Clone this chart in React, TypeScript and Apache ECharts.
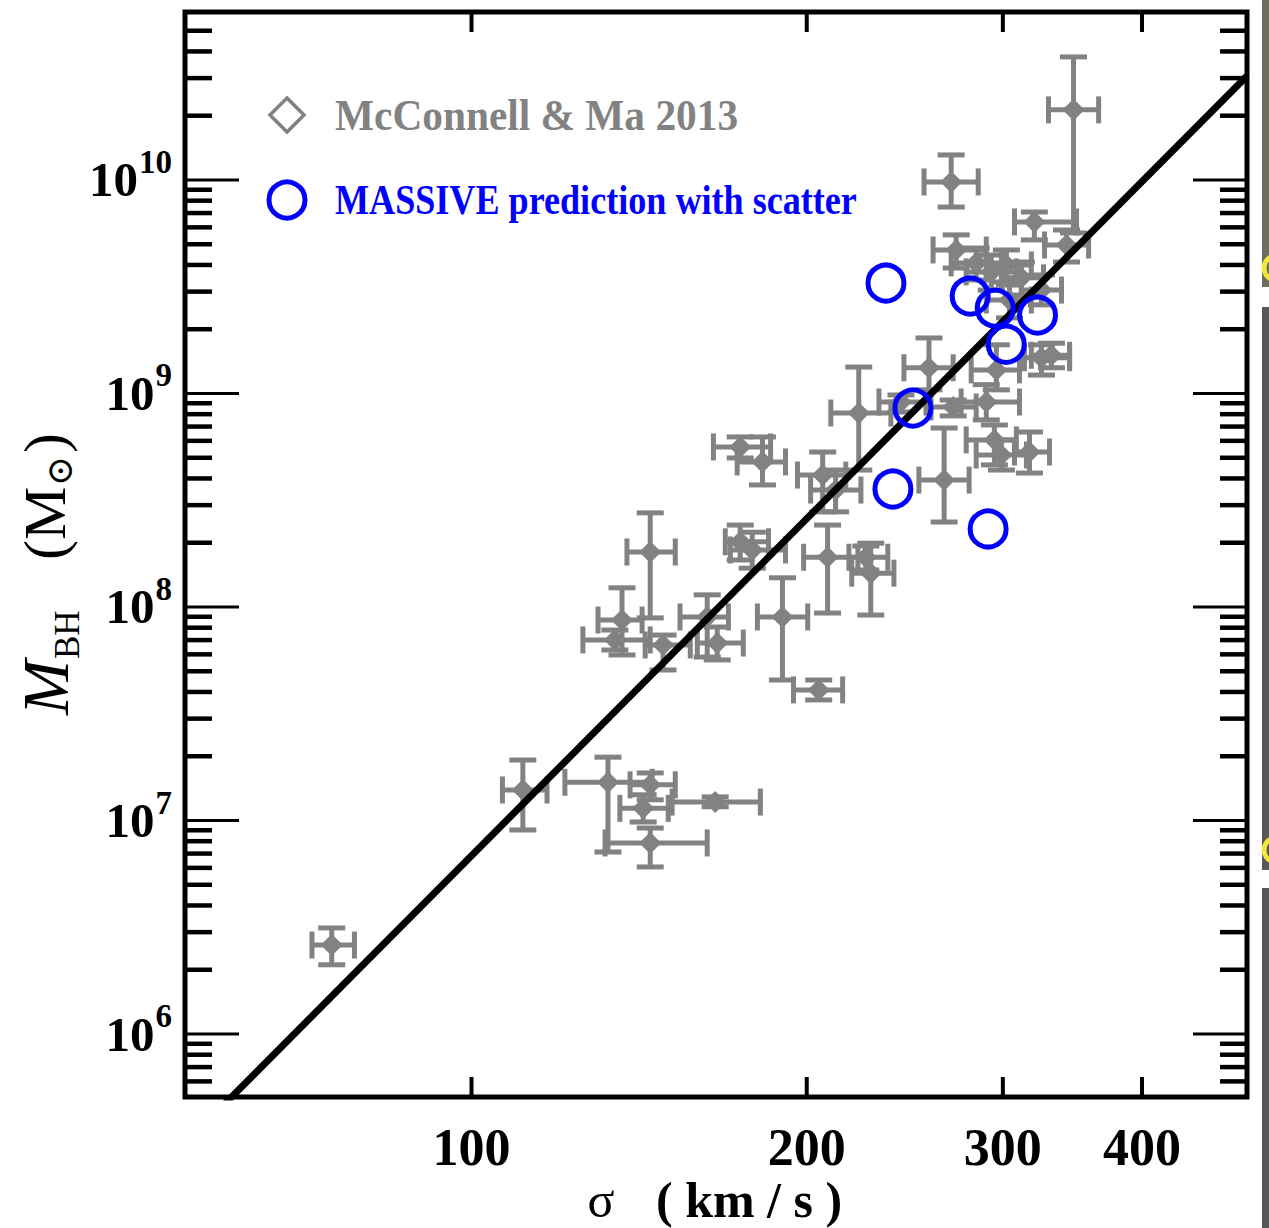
import React, { useEffect, useRef } from "react";
import * as echarts from "echarts";

// Axis ranges: velocity dispersion (km/s) and black-hole mass (solar masses)
const SIGMA_MIN = 55.3;
const SIGMA_MAX = 497;
const MASS_MIN = 5.07e5;
const MASS_MAX = 6.12e10;

// McConnell & Ma 2013 galaxies: sigma with its error range, M_BH with its error range
const mmSigma = [74.9, 111.2, 132.6, 144.7, 142.6, 144.7, 165.5, 144.7, 136.5, 134.5, 148.6, 162.8, 166.2, 190.2, 205.0, 174.3, 178.7, 208.8, 226.0, 228.3, 174.3, 182.5, 206.7, 212.3, 265.7, 222.7, 243.0, 257.5, 296.0, 324.9, 331.7, 270.7, 289.9, 294.8, 299.1, 317.0, 269.6, 272.4, 283.9, 292.9, 302.2, 311.7, 320.2, 342.2, 324.9, 304.1, 347.2];
const mmSigmaLo = [71.9, 106.6, 121.3, 138.8, 135.9, 131.8, 151.4, 137.9, 129.9, 125.9, 143.2, 153.9, 159.5, 180.6, 194.6, 169.0, 170.8, 198.7, 218.2, 219.5, 164.9, 173.2, 196.2, 201.6, 252.2, 210.2, 232.2, 244.5, 281.0, 313.7, 318.2, 258.6, 275.2, 278.1, 283.9, 307.3, 254.9, 259.7, 269.6, 278.1, 289.9, 299.1, 307.3, 327.0, 311.7, 289.9, 329.7];
const mmSigmaHi = [78.5, 116.9, 145.3, 152.4, 150.2, 162.8, 181.7, 152.4, 142.3, 144.7, 157.2, 170.1, 175.4, 200.4, 215.4, 184.8, 191.4, 222.3, 236.5, 239.5, 185.6, 191.4, 216.8, 223.7, 279.8, 238.0, 255.9, 270.7, 310.5, 344.4, 344.4, 283.9, 310.5, 308.5, 315.0, 330.4, 285.1, 289.9, 299.1, 308.5, 318.2, 326.3, 349.4, 358.2, 338.7, 318.2, 365.7];
const mmMass = [2.61e6, 1.39e7, 1.51e7, 1.47e7, 1.14e7, 7.85e6, 1.22e7, 1.81e8, 8.69e7, 7.01e7, 6.64e7, 8.98e7, 6.78e7, 8.98e7, 4.09e7, 2.02e8, 1.85e8, 1.71e8, 1.71e8, 1.44e8, 5.62e8, 4.78e8, 4.15e8, 3.53e8, 3.93e8, 8.10e8, 9.12e8, 1.32e9, 1.29e9, 1.47e9, 1.51e9, 8.65e8, 9.12e8, 6.06e8, 5.15e8, 5.32e8, 9.79e9, 4.70e9, 4.09e9, 3.71e9, 4.00e9, 3.48e9, 6.36e9, 4.96e9, 3.05e9, 2.74e9, 2.13e10];
const mmMassLo = [2.11e6, 9.03e6, 7.12e6, 1.25e7, 9.84e6, 6.06e6, 1.16e7, 8.89e7, 5.96e7, 6.29e7, 5.07e7, 5.83e7, 5.65e7, 4.55e7, 3.67e7, 1.66e8, 1.52e8, 9.37e7, 1.49e8, 9.17e7, 4.99e8, 3.73e8, 2.79e8, 2.79e8, 2.50e8, 4.38e8, 8.19e8, 1.04e9, 1.04e9, 1.22e9, 1.32e9, 7.85e8, 7.52e8, 4.63e8, 4.38e8, 4.24e8, 7.47e9, 3.87e9, 3.40e9, 3.05e9, 3.33e9, 2.89e9, 5.24e9, 4.13e9, 2.60e9, 2.26e9, 5.65e9];
const mmMassHi = [3.14e6, 1.92e7, 1.98e7, 1.67e7, 1.32e7, 9.22e6, 1.29e7, 2.76e8, 1.23e8, 7.80e7, 7.39e7, 1.14e8, 8.06e7, 1.37e8, 4.55e7, 2.42e8, 2.24e8, 2.42e8, 1.93e8, 1.99e8, 6.26e8, 6.26e8, 5.32e8, 4.38e8, 6.89e8, 1.33e9, 9.84e8, 1.82e9, 1.69e9, 1.69e9, 1.72e9, 9.32e8, 1.10e9, 7.12e8, 6.06e8, 6.60e8, 1.31e10, 5.53e9, 4.80e9, 4.45e9, 4.70e9, 4.13e9, 7.08e9, 5.83e9, 3.59e9, 3.22e9, 3.77e10];

// MASSIVE galaxies: predicted masses with scatter
const massiveSigma = [235.6, 280.4, 295.3, 322.3, 302.1, 249.1, 239.0, 291.0];
const massiveMass = [3.29e9, 2.86e9, 2.51e9, 2.33e9, 1.7e9, 8.55e8, 3.57e8, 2.32e8];

// M-sigma relation, end points across the plotted range
const fitSigma = [55.3, 497];
const fitMass = [3.06e5, 3.07e10];

// Axis ticks and labels
const xTickValues = [100, 200, 300, 400];
const xTickLabels = ["100", "200", "300", "400"];
const yMajorExponents = [6, 7, 8, 9, 10];
const yMinorMultipliers = [2, 3, 4, 5, 6, 7, 8, 9];
const yMinorDecades = [5, 6, 7, 8, 9, 10];

const SERIF = '"Liberation Serif", "Times New Roman", "DejaVu Serif", serif';
const GRAY = "#828282";
const BLUE = "#0000ff";
const CAP = 27;

const yMinorValues: number[] = [];
yMinorDecades.forEach((d) =>
  yMinorMultipliers.forEach((m) => {
    const v = m * Math.pow(10, d);
    if (v > MASS_MIN * 1.02 && v < MASS_MAX / 1.05) yMinorValues.push(v);
  })
);

function textStyle(text: string, size: number, extra: any = {}) {
  const align = extra.align || "left";
  const valign = extra.verticalAlign || "middle";
  return {
    text,
    fontSize: size,
    fontFamily: SERIF,
    fontWeight: extra.fontWeight || "normal",
    fontStyle: extra.fontStyle || "normal",
    fill: extra.fill || "#000",
    textAlign: align,
    textVerticalAlign: valign,
    align,
    verticalAlign: valign,
  };
}

function buildOption() {
  const mmRows = mmSigma.map((s, i) => [s, mmMass[i], mmSigmaLo[i], mmSigmaHi[i], mmMassLo[i], mmMassHi[i]]);
  const massiveRows = massiveSigma.map((s, i) => [s, massiveMass[i]]);
  const fitRows = fitSigma.map((s, i) => [s, fitMass[i]]);
  const yTickRows = [
    ...yMajorExponents.map((e) => [SIGMA_MIN, Math.pow(10, e), 1]),
    ...yMinorValues.map((v) => [SIGMA_MIN, v, 0]),
  ];
  const yLabelRows = yMajorExponents.map((e) => [SIGMA_MIN, Math.pow(10, e), e]);
  const xTickRows = xTickValues.map((v, i) => [v, MASS_MIN, i]);

  const errorBarItem = (params: any, api: any) => {
    const s = api.value(0);
    const m = api.value(1);
    const c = api.coord([s, m]);
    const cx = c[0];
    const cy = c[1];
    const xl = api.coord([api.value(2), m])[0];
    const xr = api.coord([api.value(3), m])[0];
    const yb = api.coord([s, api.value(4)])[1];
    const yt = api.coord([s, api.value(5)])[1];
    const h = CAP / 2;
    const st = { stroke: GRAY, lineWidth: 5 };
    const seg = (x1: number, y1: number, x2: number, y2: number) => ({ type: "line", shape: { x1, y1, x2, y2 }, style: st });
    const d = 11;
    return {
      type: "group",
      children: [
        seg(xl, cy, xr, cy),
        seg(cx, yt, cx, yb),
        seg(xl, cy - h, xl, cy + h),
        seg(xr, cy - h, xr, cy + h),
        seg(cx - h, yt, cx + h, yt),
        seg(cx - h, yb, cx + h, yb),
        { type: "polygon", shape: { points: [[cx, cy - d], [cx + d, cy], [cx, cy + d], [cx - d, cy]] }, style: { fill: GRAY } },
      ],
    };
  };

  const yTickItem = (params: any, api: any) => {
    const cs = params.coordSys;
    const y = api.coord([api.value(0), api.value(1)])[1];
    const major = api.value(2) === 1;
    const len = major ? 54 : 27;
    const st = { stroke: "#000", lineWidth: major ? 3 : 4.5 };
    return {
      type: "group",
      children: [
        { type: "line", shape: { x1: cs.x, y1: y, x2: cs.x + len, y2: y }, style: st },
        { type: "line", shape: { x1: cs.x + cs.width - len, y1: y, x2: cs.x + cs.width, y2: y }, style: st },
      ],
    };
  };

  const yLabelItem = (params: any, api: any) => {
    const cs = params.coordSys;
    const y = api.coord([api.value(0), api.value(1)])[1];
    const exp = String(api.value(2));
    const right = cs.x - 13;
    const supWidth = exp.length * 16.5;
    const mainRight = right - supWidth - 1;
    return {
      type: "group",
      children: [
        { type: "text", x: mainRight, y, style: textStyle("10", 49, { fontWeight: "bold", align: "right" }) },
        { type: "text", x: mainRight + 1, y: y - 18, style: textStyle(exp, 33, { fontWeight: "bold", align: "left" }) },
      ],
    };
  };

  const xTickItem = (params: any, api: any) => {
    const cs = params.coordSys;
    const x = api.coord([api.value(0), api.value(1)])[0];
    const bottom = cs.y + cs.height;
    const st = { stroke: "#000", lineWidth: 4 };
    return {
      type: "group",
      children: [
        { type: "line", shape: { x1: x, y1: bottom, x2: x, y2: bottom - 20 }, style: st },
        { type: "line", shape: { x1: x, y1: cs.y, x2: x, y2: cs.y + 20 }, style: st },
        {
          type: "text",
          x,
          y: bottom + 50,
          style: textStyle(xTickLabels[api.value(2)], 52, { fontWeight: "bold", align: "center" }),
        },
      ],
    };
  };

  return {
    animation: false,
    backgroundColor: "#fff",
    grid: {
      left: 185,
      top: 12,
      width: 1062,
      height: 1085,
      show: true,
      borderColor: "#000",
      borderWidth: 5,
      backgroundColor: "rgba(0,0,0,0)",
    },
    xAxis: {
      type: "log",
      logBase: 10,
      min: SIGMA_MIN,
      max: SIGMA_MAX,
      axisLine: { show: false },
      axisTick: { show: false },
      axisLabel: { show: false },
      splitLine: { show: false },
    },
    yAxis: {
      type: "log",
      logBase: 10,
      min: MASS_MIN,
      max: MASS_MAX,
      axisLine: { show: false },
      axisTick: { show: false },
      axisLabel: { show: false },
      splitLine: { show: false },
    },
    series: [
      {
        name: "McConnell & Ma 2013",
        type: "custom",
        data: mmRows,
        encode: { x: 0, y: 1 },
        renderItem: errorBarItem,
        silent: true,
        z: 2,
      },
      {
        name: "M-sigma",
        type: "line",
        data: fitRows,
        symbol: "none",
        lineStyle: { color: "#000", width: 7 },
        clip: true,
        silent: true,
        z: 3,
      },
      {
        name: "MASSIVE prediction with scatter",
        type: "scatter",
        data: massiveRows,
        symbol: "circle",
        symbolSize: 36,
        itemStyle: { color: "rgba(255,255,255,0)", borderColor: BLUE, borderWidth: 5, opacity: 1 },
        silent: true,
        z: 4,
      },
      { type: "custom", data: yTickRows, encode: { x: 0, y: 1 }, renderItem: yTickItem, silent: true, z: 5 },
      { type: "custom", data: yLabelRows, encode: { x: 0, y: 1 }, renderItem: yLabelItem, silent: true, z: 5 },
      { type: "custom", data: xTickRows, encode: { x: 0, y: 1 }, renderItem: xTickItem, silent: true, z: 5 },
    ],
    graphic: [
      // legend
      {
        type: "polygon",
        shape: { points: [[287, 98], [304, 115], [287, 132], [270, 115]] },
        style: { fill: "rgba(0,0,0,0)", stroke: GRAY, lineWidth: 3.5 },
        silent: true,
      },
      {
        type: "text",
        x: 335,
        y: 115,
        scaleX: 0.94,
        style: textStyle("McConnell & Ma 2013", 44, { fontWeight: "bold", fill: GRAY }),
        silent: true,
      },
      {
        type: "circle",
        shape: { cx: 287, cy: 200, r: 18 },
        style: { fill: "rgba(0,0,0,0)", stroke: BLUE, lineWidth: 5 },
        silent: true,
      },
      {
        type: "text",
        x: 335,
        y: 200,
        scaleX: 0.86,
        style: textStyle("MASSIVE prediction with scatter", 42, { fontWeight: "bold", fill: BLUE }),
        silent: true,
      },
      // y-axis title, reading upwards
      {
        type: "group",
        x: 45,
        y: 715,
        rotation: Math.PI / 2,
        silent: true,
        children: [
          { type: "text", x: 0, y: 0, style: textStyle("M", 66, { fontStyle: "italic" }) },
          { type: "text", x: 56, y: 22, style: textStyle("BH", 35) },
          { type: "text", x: 155, y: 0, style: textStyle("(M", 60) },
          { type: "text", x: 229, y: 15, style: textStyle("\u2299", 36) },
          { type: "text", x: 262, y: 0, style: textStyle(")", 60) },
        ],
      },
      // x-axis title
      { type: "text", x: 601, y: 1200, style: textStyle("\u03c3", 50, { align: "center" }), silent: true },
      { type: "text", x: 656, y: 1200, style: textStyle("( km / s )", 50, { fontWeight: "bold" }), silent: true },
      // neighbouring slide edge on the right
      { type: "rect", shape: { x: 1262, y: 0, width: 8, height: 287 }, style: { fill: "#6f6b5e" }, silent: true },
      { type: "rect", shape: { x: 1262, y: 307, width: 8, height: 563 }, style: { fill: "#5a5857" }, silent: true },
      { type: "rect", shape: { x: 1262, y: 888, width: 8, height: 340 }, style: { fill: "#575759" }, silent: true },
      {
        type: "arc",
        shape: { cx: 1276, cy: 268, r: 12, startAngle: Math.PI * 0.6, endAngle: Math.PI * 1.4 },
        style: { stroke: "#f4e63a", lineWidth: 5, fill: "none" },
        silent: true,
      },
      {
        type: "arc",
        shape: { cx: 1276, cy: 850, r: 12, startAngle: Math.PI * 0.6, endAngle: Math.PI * 1.4 },
        style: { stroke: "#f4e63a", lineWidth: 5, fill: "none" },
        silent: true,
      },
    ],
  };
}

export default function App() {
  const ref = useRef<HTMLDivElement>(null);
  useEffect(() => {
    if (!ref.current) return;
    const chart = echarts.init(ref.current, null, { renderer: "svg" });
    chart.setOption(buildOption() as any);
    return () => chart.dispose();
  }, []);
  return (
    <div
      ref={ref}
      style={{ position: "absolute", left: 0, top: 0, width: 1269, height: 1228, background: "#fff" }}
    />
  );
}
